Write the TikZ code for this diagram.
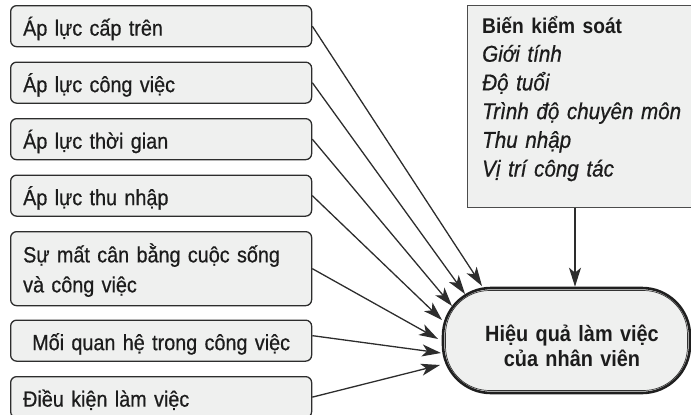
\documentclass[tikz,border=0pt]{standalone}
\usepackage{fontspec}
\setmainfont{Liberation Sans}[FakeStretch=0.9, UprightFeatures={FakeBold=0.6}, ItalicFeatures={FakeBold=0.6}]
\usetikzlibrary{arrows.meta,calc}
\definecolor{boxfill}{RGB}{239,240,239}
\definecolor{boxline}{RGB}{45,45,45}
\definecolor{txt}{RGB}{28,28,28}
\begin{document}
\begin{tikzpicture}[x=1pt,y=-1pt,
  lbox/.style={draw=boxline, fill=boxfill, rounded corners=6pt, line width=1.3pt,
    minimum width=301pt, minimum height=41pt, anchor=north west,
    inner xsep=12.5pt, inner ysep=0pt, text width=276pt, align=left, text=txt,
    font=\fontsize{22}{30}\selectfont, text height=20pt, text depth=1pt},
  arr/.style={draw=boxline, line width=1.3pt, -{Stealth[length=19pt,width=12pt,inset=5pt]}},
  ]
\useasboundingbox (0,0) rectangle (691,415);
\clip (0,0) rectangle (691,415);

% left boxes
\node[lbox] (b1) at (10,5) {Áp lực cấp trên};
\node[lbox] (b2) at (10,61.5) {Áp lực công việc};
\node[lbox] (b3) at (10,118) {Áp lực thời gian};
\node[lbox] (b4) at (10,174.5) {Áp lực thu nhập};
\node[lbox, minimum height=74pt, text depth=32.6pt] (b5) at (10,231) {Sự mất cân bằng cuộc sống\\và công việc};
\node[lbox, align=center] (b6) at (10,319.5) {Mối quan hệ trong công việc};
\node[lbox] (b7) at (10,376) {Điều kiện làm việc};

% control box
\node[draw=boxline!85, fill=boxfill, line width=1.3pt, minimum width=240pt, minimum height=202pt,
  anchor=north west, inner sep=0pt] (ctrl) at (467,5) {};
\node[anchor=base west, inner sep=0pt, text width=220pt, align=left, text=txt,
  font=\fontsize{22.9}{28.7}\selectfont] (ctrltxt) at (482,33)
  {{\bfseries\fontsize{21.3}{28.7}\selectfont Biến kiểm soát}\\\textit{Giới tính}\\\textit{Độ tuổi}\\\textit{Trình độ chuyên môn}\\\textit{Thu nhập}\\\textit{Vị trí công tác}};

% outcome
\node[draw=black!88, fill=boxfill, line width=2.6pt, rounded corners=48pt,
  minimum width=247pt, minimum height=105pt, inner sep=0pt] (hq) at (566.5,340.5) {};
\draw[draw=black!80, line width=0.7pt, rounded corners=44pt]
  ($(hq.south west)+(3.8,-3.8)$) rectangle ($(hq.north east)+(-3.8,3.8)$);
\node[anchor=base, inner sep=0pt, text width=230pt, align=center, text=txt,
  font=\bfseries\fontsize{22.1}{25}\selectfont] (hqt) at (572,341.7)
  {Hiệu quả làm việc\\của nhân viên};

% arrows
\coordinate (t1) at (482,286);
\coordinate (t2) at (465,294);
\coordinate (t3) at (452,306);
\coordinate (t4) at (442,320);
\coordinate (t5) at (438,339);
\coordinate (t6) at (441,353);
\coordinate (t7) at (440,365);
\coordinate (vx) at (575,0);
\draw[arr] (b1.east) -- (t1);
\draw[arr] (b2.east) -- (t2);
\draw[arr] (b3.east) -- (t3);
\draw[arr] (b4.east) -- (t4);
\draw[arr] (b5.east) -- (t5);
\draw[arr] ($(b6.east)+(0,-5)$) -- (t6);
\draw[arr] (b7.east) -- (t7);
\draw[arr] (ctrl.south -| vx) -- (hq.north -| vx);
\end{tikzpicture}
\end{document}
